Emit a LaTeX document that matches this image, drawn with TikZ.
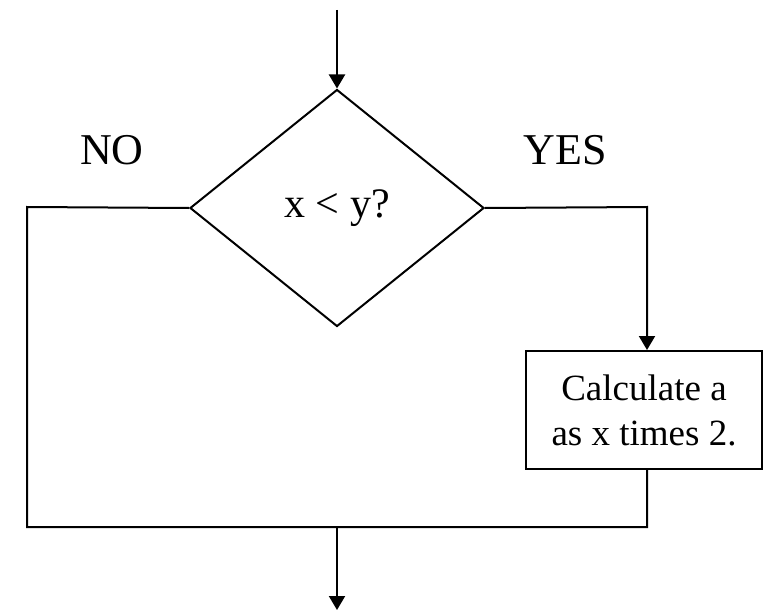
\documentclass[tikz,border=0pt]{standalone}
\usepackage{fontspec}
\setmainfont{Liberation Serif}
\usepackage{tikz}
\usetikzlibrary{shapes.geometric, arrows.meta, positioning}

\begin{document}
\begin{tikzpicture}[x=1pt, y=-1pt]
\tikzstyle{decision} = [diamond, draw=black, line width=2pt, minimum width=294pt, minimum height=237pt, inner sep=0pt, font=\fontsize{42}{50}\selectfont]
\tikzstyle{process} = [rectangle, draw=black, line width=2pt, minimum width=236pt, minimum height=118pt, align=center, font=\fontsize{37}{45}\selectfont]
\tikzstyle{label} = [font=\fontsize{44}{52}\selectfont]
\tikzstyle{line} = [line width=2pt]
\tikzstyle{arrow} = [line width=2pt,->,>={Triangle[length=14pt,width=16pt]}]

\useasboundingbox (0,0) rectangle (763,610);

% Decision
\coordinate (start) at (337,10);
\node (test) [decision] at (337,208) {x < y?};
\node (no) [label] at (112,150) {NO};
\node (yes) [label] at (565,150) {YES};

% Branches
\coordinate (noturn) at (27,207);
\coordinate (yesturn) at (647,207);
\node (calc) [process] at (644,410) {Calculate a\\as x times 2.};
\coordinate (join) at (647,527);
\coordinate (merge) at (337,527);
\coordinate (finish) at (337,610);

% Connections
\draw [arrow] (start) -- (test.north);
\draw [arrow] (test.east) -- (yesturn) -- (yesturn |- calc.north);
\draw [line] (test.west) -- (noturn) |- (join) -- (join |- calc.south);
\draw [arrow] (merge) -- (finish);

\end{tikzpicture}
\end{document}
